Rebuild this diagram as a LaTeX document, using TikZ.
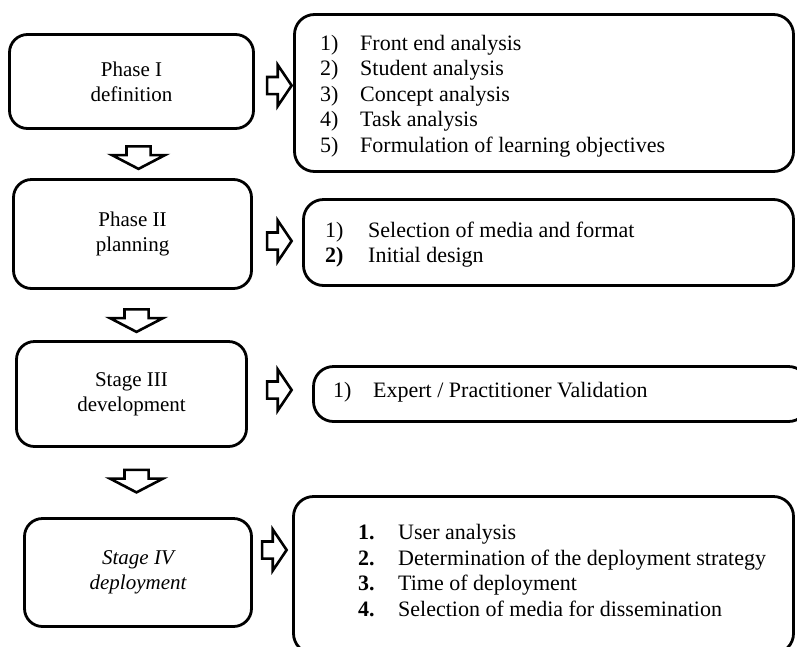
\documentclass[tikz,border=0pt]{standalone}
\usepackage{fontspec}
\setmainfont{Liberation Serif}
\usetikzlibrary{shapes.arrows}

\begin{document}
\begin{tikzpicture}[x=1pt,y=-1pt,
    phase/.style={draw,rectangle,rounded corners=18pt,line width=2.8pt,align=center,
      font=\fontsize{21}{25}\selectfont},
    tasks/.style={draw,rectangle,rounded corners=20pt,line width=2.8pt},
    list/.style={anchor=west,inner sep=0pt,font=\fontsize{22}{25.5}\selectfont},
    downarr/.style={single arrow,draw,line width=2.6pt,shape border rotate=270,
      minimum height=22.5pt,inner xsep=10.75pt,inner ysep=0pt,
      single arrow head extend=14.5pt,single arrow tip angle=125},
    rightarr/.style={single arrow,draw,line width=2.6pt,
      minimum height=24.5pt,inner xsep=0pt,inner ysep=7.25pt,
      single arrow head extend=12pt,single arrow tip angle=112}]
        \clip (0,0) rectangle (797,646);

        % phases on the left
        \path
        (131.5,81.5) node[phase,minimum width=244pt,minimum height=94pt](ph1) {Phase I\\definition}
        (132.5,234) node[phase,minimum width=238pt,minimum height=109pt](ph2) {Phase II\\planning}
        (131.5,394) node[phase,minimum width=230pt,minimum height=105pt](ph3) {Stage III\\development}
        (138,572.5) node[phase,minimum width=227pt,minimum height=108pt,
          font=\fontsize{21}{25}\selectfont\itshape](ph4) {Stage IV\\deployment}
        ;

        \path
        (138.5,154.5) node[downarr](da1) {}
        (136.5,317.5) node[downarr](da2) {}
        (136.5,478) node[downarr](da3) {}
        ;

        \path
        (276.5,85.5) node[rightarr](ra1) {}
        (276.5,241) node[rightarr](ra2) {}
        (276.5,390) node[rightarr](ra3) {}
        (271.5,550) node[rightarr](ra4) {}
        ;

        % task boxes on the right
        \path
        (544,93) node[tasks,minimum width=499pt,minimum height=157pt](tk1) {}
        (548.5,242.5) node[tasks,minimum width=490pt,minimum height=86pt](tk2) {}
        (561,394) node[tasks,minimum width=495pt,minimum height=55pt](tk3) {}
        (543.5,575) node[tasks,minimum width=500pt,minimum height=157pt](tk4) {}
        ;

        \node[list] (ls1) at (320,96) {\begin{tabular}{@{}p{40pt}@{}l@{}}
            1) & Front end analysis\\
            2) & Student analysis\\
            3) & Concept analysis\\
            4) & Task analysis\\
            5) & Formulation of learning objectives
          \end{tabular}};
        \node[list] (ls2) at (325,245) {\begin{tabular}{@{}p{43pt}@{}l@{}}
            1) & Selection of media and format\\
            \textbf{2)} & Initial design
          \end{tabular}};
        \node[list] (ls3) at (333,392) {\begin{tabular}{@{}p{40pt}@{}l@{}}
            1) & Expert / Practitioner Validation
          \end{tabular}};
        \node[list] (ls4) at (358,573) {\begin{tabular}{@{}p{40pt}@{}l@{}}
            \textbf{1.} & User analysis\\
            \textbf{2.} & Determination of the deployment strategy\\
            \textbf{3.} & Time of deployment\\
            \textbf{4.} & Selection of media for dissemination
          \end{tabular}};
      \end{tikzpicture}
\end{document}
